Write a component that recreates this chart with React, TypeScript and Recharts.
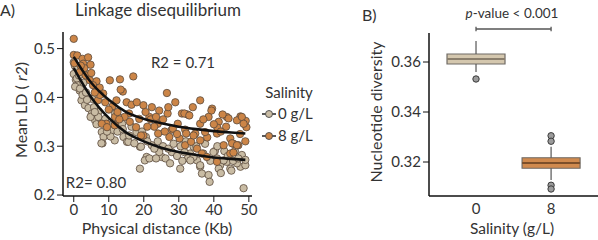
import React from 'react';
import { ComposedChart, Scatter, XAxis, YAxis, ReferenceArea, ReferenceLine } from 'recharts';

// ---------- Panel A data ----------
const sal0Points: [number, number][] = [
  [0, 0.472], [0.3, 0.465], [0.8, 0.458], [0, 0.448], [0.6, 0.436], [1.2, 0.425], [1.7, 0.414],
  [2.2, 0.394], [3.2, 0.384], [4.4, 0.448], [0.9, 0.439], [0.4, 0.422], [1.8, 0.418], [4.2, 0.378],
  [7.1, 0.371], [5.3, 0.397], [2.5, 0.405], [3.5, 0.41], [6.1, 0.353], [9, 0.356], [8, 0.329],
  [8.5, 0.319], [8.2, 0.306], [10.9, 0.333], [11.8, 0.343], [13.8, 0.346], [14.2, 0.319], [15.2, 0.309],
  [5.2, 0.367], [11.8, 0.367], [7.9, 0.306], [11.7, 0.312], [15.6, 0.309], [18.9, 0.299], [22.3, 0.302],
  [20.8, 0.278], [20.3, 0.271], [18.9, 0.254], [25.1, 0.278], [28, 0.288], [30.4, 0.254], [33.2, 0.285],
  [35.2, 0.271], [36.1, 0.258], [36.6, 0.244], [38.5, 0.241], [38.8, 0.227], [40.9, 0.275], [41.8, 0.261],
  [43.7, 0.268], [47.6, 0.258], [49, 0.261], [48, 0.282], [48.5, 0.214], [40.3, 0.29], [34.2, 0.299],
  [17.3, 0.306], [19.2, 0.299], [21.6, 0.275], [24.4, 0.288], [26.2, 0.275], [31.6, 0.288], [32.6, 0.275],
  [15.8, 0.322], [20.6, 0.319], [17.9, 0.329], [34.2, 0.278], [37, 0.285], [39.9, 0.288], [42.8, 0.271],
  [44.7, 0.254], [46.6, 0.265], [41.4, 0.254], [36.1, 0.261], [33.3, 0.271], [6.5, 0.345], [7, 0.36],
  [9.8, 0.345], [10.5, 0.32], [12.5, 0.33], [13, 0.358], [16.5, 0.34], [14, 0.335], [19.5, 0.33],
  [21, 0.31], [23, 0.295], [24, 0.31], [25.5, 0.3], [27, 0.295], [28.5, 0.305], [29.5, 0.28], [30.5, 0.3],
  [31, 0.27], [32, 0.31], [35, 0.3], [37.5, 0.305], [39, 0.27], [41, 0.3], [43, 0.29], [44, 0.28],
  [45.5, 0.27], [46, 0.29], [47, 0.275], [49, 0.272], [42, 0.245], [45, 0.25], [27.5, 0.265], [23.5, 0.275],
  [2.8, 0.43], [3.8, 0.395], [5.8, 0.38], [4.8, 0.36], [6, 0.37], [1.5, 0.445], [9.5, 0.33],
];

const sal8Points: [number, number][] = [
  [0, 0.52], [0, 0.487], [1, 0.486], [2.5, 0.479], [4.1, 0.482], [2.7, 0.469], [4.8, 0.467], [0.2, 0.47],
  [1.7, 0.452], [3.4, 0.445], [4.6, 0.435], [6.5, 0.433], [5.5, 0.425], [7.4, 0.42], [8.4, 0.408],
  [6.9, 0.394], [10.3, 0.435], [13.2, 0.437], [17, 0.443], [14, 0.412], [13.4, 0.416], [12.2, 0.394],
  [11.1, 0.382], [15.1, 0.39], [16.5, 0.385], [18, 0.39], [19.9, 0.384], [22.3, 0.38], [26.6, 0.409],
  [30.9, 0.367], [32.5, 0.365], [36.1, 0.394], [39.5, 0.377], [43.7, 0.36], [47.6, 0.361], [9.3, 0.346],
  [19.9, 0.322], [24.1, 0.326], [28, 0.334], [31.8, 0.334], [34.7, 0.326], [38.1, 0.318], [44.7, 0.316],
  [45.6, 0.305], [47, 0.302], [44.7, 0.285], [40.9, 0.268], [31.8, 0.302], [35.2, 0.295], [36.6, 0.285],
  [38, 0.278], [17.8, 0.339], [11.7, 0.343], [49.3, 0.339], [49.1, 0.352], [8, 0.346], [9.5, 0.339],
  [11.8, 0.36], [15.8, 0.367], [18.7, 0.356], [21.6, 0.36], [24, 0.346], [26.8, 0.367], [28.3, 0.336],
  [29.7, 0.346], [31.6, 0.367], [33, 0.363], [19.2, 0.322], [27.3, 0.319], [30.2, 0.316], [32.1, 0.326],
  [33.5, 0.309], [24.4, 0.373], [36.1, 0.346], [41.4, 0.35], [44.2, 0.357], [46.6, 0.353], [48, 0.36],
  [48.5, 0.346], [34.2, 0.322], [37.5, 0.329], [40.9, 0.326], [42.8, 0.302], [45.2, 0.306], [46.6, 0.302],
  [45.6, 0.287], [36.1, 0.312], [39.3, 0.373], [3, 0.46], [5, 0.45], [7.5, 0.405], [9, 0.39], [10, 0.375],
  [12.5, 0.37], [14.5, 0.36], [16, 0.35], [20.5, 0.37], [22, 0.355], [23, 0.34], [25.5, 0.355], [27, 0.38],
  [29, 0.39], [34, 0.38], [38.5, 0.36], [41, 0.338], [42.5, 0.365], [43.5, 0.34], [21, 0.34], [26, 0.33],
  [13, 0.355], [6, 0.41], [2, 0.465], [37, 0.355], [40, 0.345], [47.5, 0.325], [49, 0.31], [42, 0.33],
  [29.5, 0.325], [23.5, 0.36],
];

const fitX = [0, 5, 10, 15, 20, 25, 30, 35, 40, 45, 49];
const fit0 = [0.46, 0.4, 0.358, 0.328, 0.31, 0.297, 0.288, 0.282, 0.277, 0.274, 0.272];
const fit8 = [0.483, 0.43, 0.395, 0.37, 0.356, 0.347, 0.34, 0.335, 0.331, 0.328, 0.326];

const xTicksA = [0, 10, 20, 30, 40, 50];
const yTicksA = [0.2, 0.3, 0.4, 0.5];
const legendLabels = ['0 g/L', '8 g/L'];

// ---------- Panel B data ----------
const boxCategories = [0, 8];
const boxMin = [0.356, 0.3128];
const boxQ1 = [0.3592, 0.3175];
const boxMedian = [0.3612, 0.3196];
const boxQ3 = [0.3632, 0.3217];
const boxMax = [0.3684, 0.3261];
const boxOutliers = [[0.3532], [0.3305, 0.3283, 0.3107, 0.3092]];
const yTicksB = [0.32, 0.34, 0.36];
const xTicksB = [0, 8];
const pValueLevel = 0.3732;

// ---------- styles ----------
const TAN = '#c9bca4';
const ORANGE = '#cc8547';
const BOX_TAN = '#d4c7ae';
const BOX_ORANGE = '#d08a4e';
const FONT = 'Lato, "Open Sans", sans-serif';
const TXT = '#333';
const BOX_HALF = 3.09;

const toData = (pts: [number, number][]) => pts.map(([x, y]) => ({ x, y }));
const sal0Data = toData(sal0Points);
const sal8Data = toData(sal8Points);
const fit0Data = fitX.map((x, i) => ({ x, y: fit0[i] }));
const fit8Data = fitX.map((x, i) => ({ x, y: fit8[i] }));
const outlierData = boxCategories.flatMap((c, i) => boxOutliers[i].map((y) => ({ x: c, y })));

const dot = (fill: string) => (props: any) => (
  <circle cx={props.cx} cy={props.cy} r={3.7} fill={fill} stroke="#5a4a3c" strokeWidth={0.8} />
);
const noDot = () => <g />;

const tickStyle = { fontSize: 15, fill: TXT, fontFamily: FONT };
const axisLine = { stroke: '#111', strokeWidth: 1.5 };
const tickLine = { stroke: '#111', strokeWidth: 1 };
const fitLine = { stroke: '#111', strokeWidth: 2.6 };

export default function App() {
  return (
    <div style={{ position: 'absolute', left: 0, top: 0, width: 598, height: 240, background: '#fff', fontFamily: FONT }}>
      <div style={{ position: 'absolute', left: 0, top: 0 }}>
        <ComposedChart width={262} height={240} margin={{ top: 32, right: 10, bottom: 4, left: 0 }}>
          <XAxis
            type="number"
            dataKey="x"
            domain={[-3.07, 50.9]}
            ticks={xTicksA}
            allowDataOverflow
            height={40}
            tickSize={6}
            tickMargin={2}
            tick={tickStyle}
            axisLine={axisLine}
            tickLine={tickLine}
          />
          <YAxis
            type="number"
            dataKey="y"
            domain={[0.198, 0.534]}
            ticks={yTicksA}
            allowDataOverflow
            width={63}
            tickSize={6}
            tickMargin={2}
            tick={tickStyle}
            axisLine={axisLine}
            tickLine={tickLine}
          />
          <Scatter data={sal0Data} shape={dot(TAN)} isAnimationActive={false} />
          <Scatter data={sal8Data} shape={dot(ORANGE)} isAnimationActive={false} />
          <Scatter data={fit0Data} shape={noDot} line={fitLine} lineType="joint" lineJointType="monotoneX" isAnimationActive={false} />
          <Scatter data={fit8Data} shape={noDot} line={fitLine} lineType="joint" lineJointType="monotoneX" isAnimationActive={false} />
        </ComposedChart>
      </div>

      <div style={{ position: 'absolute', left: 340, top: 0 }}>
        <ComposedChart width={258} height={240} margin={{ top: 33, right: 0, bottom: 4, left: 0 }}>
          <XAxis
            type="number"
            dataKey="x"
            domain={[-5.01, 13]}
            ticks={xTicksB}
            allowDataOverflow
            height={40}
            tickSize={6}
            tickMargin={1}
            tick={tickStyle}
            axisLine={axisLine}
            tickLine={false}
          />
          <YAxis
            type="number"
            dataKey="y"
            domain={[0.3064, 0.3716]}
            ticks={yTicksB}
            allowDataOverflow
            width={89}
            tickSize={6}
            tickMargin={2}
            tick={tickStyle}
            axisLine={axisLine}
            tickLine={tickLine}
          />
          {boxCategories.map((c, i) => (
            <ReferenceLine key={`wu${i}`} segment={[{ x: c, y: boxQ3[i] }, { x: c, y: boxMax[i] }]} stroke="#555" strokeWidth={1.2} ifOverflow="visible" />
          ))}
          {boxCategories.map((c, i) => (
            <ReferenceLine key={`wl${i}`} segment={[{ x: c, y: boxQ1[i] }, { x: c, y: boxMin[i] }]} stroke="#555" strokeWidth={1.2} ifOverflow="visible" />
          ))}
          {boxCategories.map((c, i) => (
            <ReferenceArea
              key={`box${i}`}
              x1={c - BOX_HALF}
              x2={c + BOX_HALF}
              y1={boxQ1[i]}
              y2={boxQ3[i]}
              fill={i === 0 ? BOX_TAN : BOX_ORANGE}
              fillOpacity={1}
              stroke="#6f6a64"
              strokeWidth={1.2}
              ifOverflow="visible"
            />
          ))}
          {boxCategories.map((c, i) => (
            <ReferenceLine
              key={`med${i}`}
              segment={[{ x: c - BOX_HALF, y: boxMedian[i] }, { x: c + BOX_HALF, y: boxMedian[i] }]}
              stroke={i === 0 ? '#8a7e6c' : '#7c4f2a'}
              strokeWidth={2}
              ifOverflow="visible"
            />
          ))}
          <ReferenceLine segment={[{ x: boxCategories[0], y: pValueLevel }, { x: boxCategories[1], y: pValueLevel }]} stroke="#555" strokeWidth={1.3} ifOverflow="visible" />
          <ReferenceLine segment={[{ x: boxCategories[0], y: pValueLevel - 0.0009 }, { x: boxCategories[0], y: pValueLevel + 0.0009 }]} stroke="#555" strokeWidth={1.3} ifOverflow="visible" />
          <ReferenceLine segment={[{ x: boxCategories[1], y: pValueLevel - 0.0009 }, { x: boxCategories[1], y: pValueLevel + 0.0009 }]} stroke="#555" strokeWidth={1.3} ifOverflow="visible" />
          <Scatter
            data={outlierData}
            shape={(p: any) => <circle cx={p.cx} cy={p.cy} r={3.2} fill="#9b9b9b" stroke="#3a3a3a" strokeWidth={1} />}
            isAnimationActive={false}
          />
        </ComposedChart>
      </div>

      <svg width={598} height={240} style={{ position: 'absolute', left: 0, top: 0, pointerEvents: 'none' }} fontFamily={FONT}>
        <text x={0} y={16} fontSize={16} fill={TXT}>A)</text>
        <text x={158} y={16} fontSize={17} fill={TXT} textAnchor="middle">Linkage disequilibrium</text>
        <text x={183} y={68} fontSize={15} fill={TXT} textAnchor="middle">R2 = 0.71</text>
        <text x={96} y={188} fontSize={15} fill={TXT} textAnchor="middle">R2= 0.80</text>
        <text x={157} y={234} fontSize={16} fill={TXT} textAnchor="middle">Physical distance (Kb)</text>
        <text transform="translate(27,110) rotate(-90)" fontSize={16} fill={TXT} textAnchor="middle">
          Mean LD ( <tspan fontStyle="italic">r2</tspan>)
        </text>
        <text x={289} y={98} fontSize={15} fill={TXT} textAnchor="middle">Salinity</text>
        {legendLabels.map((lab, i) => (
          <g key={lab}>
            <line x1={262} x2={276} y1={114 + i * 22} y2={114 + i * 22} stroke="#222" strokeWidth={1.5} />
            <circle cx={269} cy={114 + i * 22} r={3.5} fill={i === 0 ? TAN : ORANGE} stroke="#4a4a4a" strokeWidth={0.9} />
            <text x={278} y={119 + i * 22} fontSize={15} fill={TXT}>{lab}</text>
          </g>
        ))}
        <text x={362} y={21} fontSize={16} fill={TXT}>B)</text>
        <text x={512} y={18} fontSize={13.5} fill={TXT} textAnchor="middle">
          <tspan fontStyle="italic">p</tspan>-value &lt; 0.001
        </text>
        <text transform="translate(382,112) rotate(-90)" fontSize={16} fill={TXT} textAnchor="middle">Nucleotide diversity</text>
        <text x={512} y={234} fontSize={15.5} fill={TXT} textAnchor="middle">Salinity (g/L)</text>
      </svg>
    </div>
  );
}
